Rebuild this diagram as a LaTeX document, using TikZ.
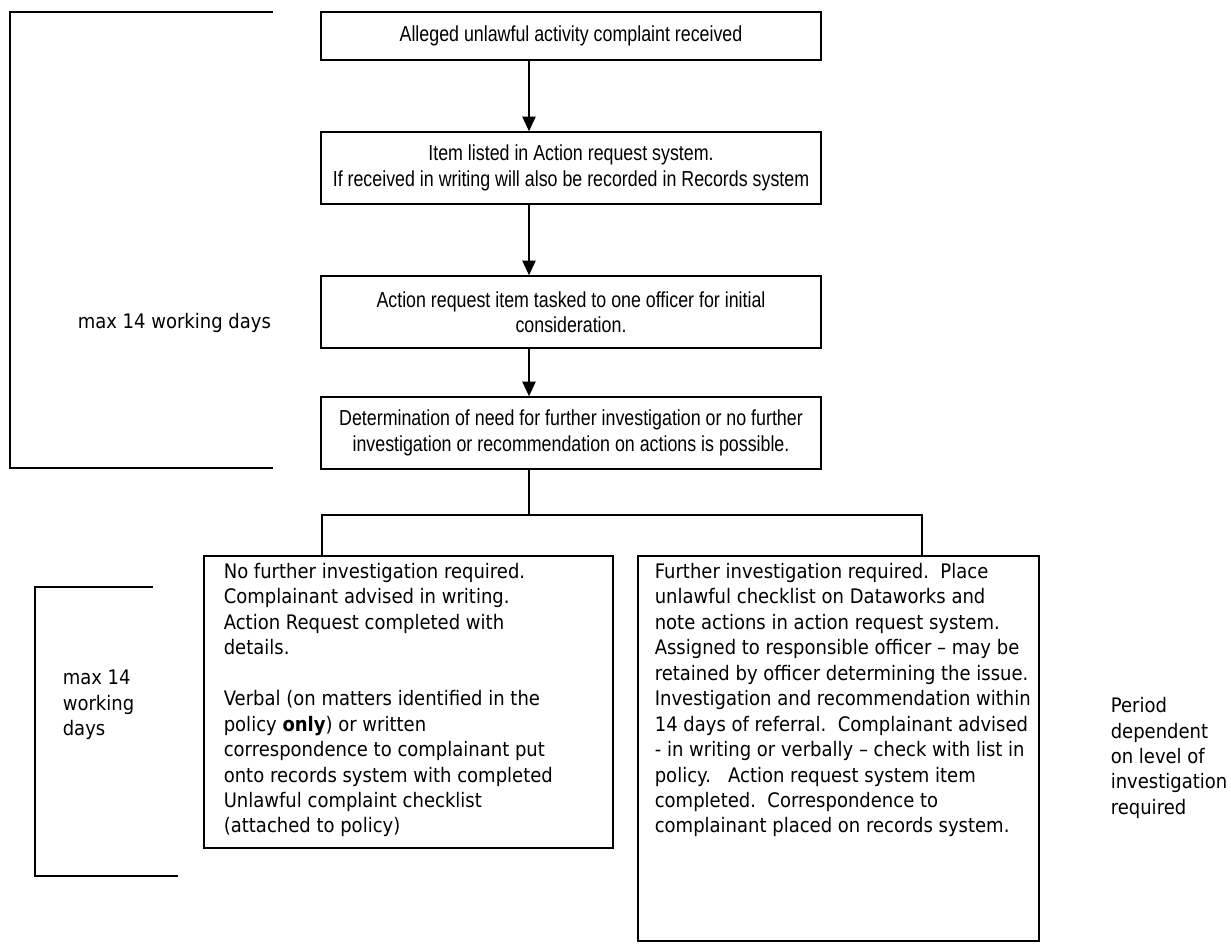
\documentclass[tikz,border=0pt]{standalone}
\usepackage{fontspec}
\setmainfont[FakeStretch=0.9]{DejaVu Sans}
\newfontfamily\narrowfont[FakeStretch=0.82]{Liberation Sans}
\usetikzlibrary{arrows.meta}

\newcommand{\boxtext}[3]{\parbox[t][#1][t]{#2}{\begin{tabular}[t]{@{}l@{}}#3\end{tabular}}}

\begin{document}
\begin{tikzpicture}
    [x=0.75pt, y=-0.75pt, line width=1.2pt, >={Triangle[length=11pt,width=10pt]},
     stepbox/.style={draw, minimum width=375pt, minimum height=54pt, align=center,
                     font=\narrowfont\fontsize{16.3}{19}\selectfont},
     outbox/.style={draw, anchor=north west, inner ysep=3.5pt,
                    font=\fontsize{15}{19.1}\selectfont},
     sidenote/.style={anchor=west, align=left, inner sep=0pt,
                      font=\fontsize{15}{19.1}\selectfont}]

    \useasboundingbox (0,0) rectangle (1231,945);

    % main column
    \node (received) [stepbox, minimum height=36pt] at (571,36)
      {Alleged unlawful activity complaint received};
    \node (listed) [stepbox] at (571,168)
      {Item listed in Action request system.\\
       If received in writing will also be recorded in Records system};
    \node (tasked) [stepbox] at (571,312)
      {Action request item tasked to one officer for initial\\ consideration.};
    \node (determine) [stepbox] at (571,433)
      {Determination of need for further investigation or no further\\
       investigation or recommendation on actions is possible.};

    \coordinate (spine) at (529,0);
    \coordinate (forkL) at (322,515);
    \coordinate (forkR) at (922,515);

    \draw[->] (received.south -| spine) -- (listed.north -| spine);
    \draw[->] (listed.south -| spine) -- (tasked.north -| spine);
    \draw[->] (tasked.south -| spine) -- (determine.north -| spine);

    % the two outcomes
    \node (nofurther) [outbox, inner xsep=15pt] at (203,555)
      {\boxtext{212pt}{276.75pt}{No further investigation required.\\
       Complainant advised in writing.\\
       Action Request completed with\\
       details.\\[19.1pt]
       Verbal (on matters identified in the\\
       policy \textbf{only}) or written\\
       correspondence to complainant put\\
       onto records system with completed\\
       Unlawful complaint checklist\\
       (attached to policy)}};
    \node (further) [outbox, inner xsep=12.75pt] at (637,555)
      {\boxtext{281.75pt}{275.25pt}{Further investigation required.\ \ Place\\
       unlawful checklist on Dataworks and\\
       note actions in action request system.\\
       Assigned to responsible officer -- may be\\
       retained by officer determining the issue.\\
       Investigation and recommendation within\\
       14 days of referral.\ \ Complainant advised\\
       - in writing or verbally -- check with list in\\
       policy.\ \ \ Action request system item\\
       completed.\ \ Correspondence to\\
       complainant placed on records system.}};

    \draw (determine.south -| spine) -- (spine |- forkL);
    \draw (nofurther.north -| forkL) -- (forkL) -- (forkR) -- (further.north -| forkR);

    % time brackets
    \draw (273,12) -- (10,12) -- (10,468) -- (273,468);
    \node (upperdays) [sidenote] at (77,323) {max 14 working days};

    \draw (153,587) -- (35,587) -- (35,876) -- (178,876);
    \node (lowerdays) [sidenote] at (62,705) {max 14\\ working\\ days};

    \node (period) [sidenote] at (1110,758)
      {Period\\ dependent\\ on level of\\ investigation\\ required};
\end{tikzpicture}
\end{document}
